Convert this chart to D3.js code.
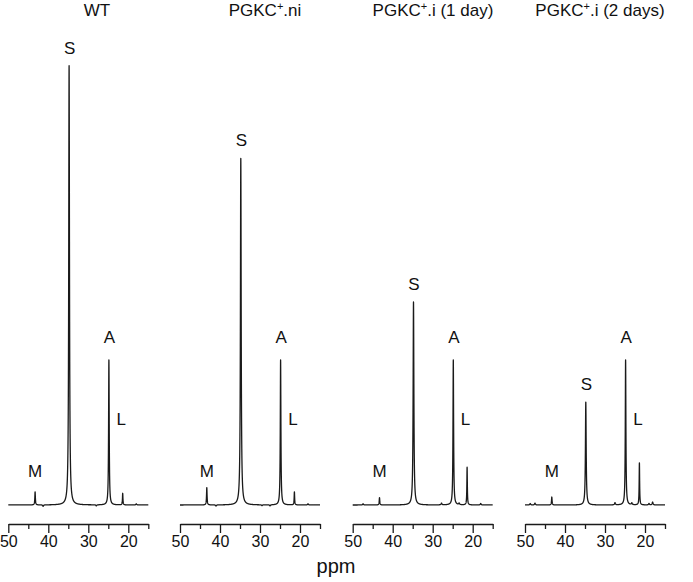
<!DOCTYPE html>
<html>
<head>
<meta charset="utf-8">
<script src="https://cdn.jsdelivr.net/npm/d3@7/dist/d3.min.js"></script>
<style>
  html, body { margin: 0; padding: 0; background: #fff; }
  svg { display: block; font-family: "Liberation Sans", Arial, sans-serif; }
</style>
</head>
<body>
<svg id="chart" width="693" height="582"></svg>
<script>
// ---------------- DATA ----------------
const sampleNames = ["WT", "PGKC+.ni", "PGKC+.i (1 day)", "PGKC+.i (2 days)"];
const titleMain = ["WT", "PGKC", "PGKC", "PGKC"];
const titleSup = ["", "+", "+", "+"];
const titleRest = ["", ".ni", ".i (1 day)", ".i (2 days)"];

const peakLabels = ["M", "S", "A", "L"];
const peakPpm = [43.3, 34.8, 24.85, 21.4];
// relative intensity (A = 100)
const heightsWT = [9, 303, 100, 8];
const heightsNi = [12, 239, 100, 9];
const heights1d = [5, 140, 100, 26];
const heights2d = [5.5, 71, 100, 29];

// small baseline features (ppm, relative intensity)
const minorPpmWT = [41.3, 28.0, 18.0];
const minorHWT = [-1.0, -0.8, 0.8];
const minorPpmNi = [41.0, 29.5, 27.5, 18.0];
const minorHNi = [-0.8, -0.6, -0.8, 0.8];
const minorPpm1d = [47.4, 27.8, 23.4, 18.0];
const minorH1d = [0.8, 1.2, 1.0, 1.0];
const minorPpm2d = [48.7, 47.5, 27.5, 23.3, 19.0, 18.1];
const minorH2d = [1.0, 1.3, 1.5, 1.2, 1.0, 2.0];

const tickValues = [50, 45, 40, 35, 30, 25, 20, 15];
const tickLabels = ["50", "", "40", "", "30", "", "20", ""];
const xLabel = "ppm";

// ---------------- LAYOUT ----------------
const panelLeft = [8.3, 180, 352.7, 525];
const panelWidth = 140;
const baselineY = 505;
const axisY = 524;
const titleCx = [97, 265, 433, 600];
const titleY = 16;

const panels = [
  { heights: heightsWT, mp: minorPpmWT, mh: minorHWT },
  { heights: heightsNi, mp: minorPpmNi, mh: minorHNi },
  { heights: heights1d, mp: minorPpm1d, mh: minorH1d },
  { heights: heights2d, mp: minorPpm2d, mh: minorH2d }
];

const svg = d3.select("#chart");
const y = d3.scaleLinear().domain([0, 320]).range([baselineY, baselineY - 320 * 1.45]);

const gammaMain = [0.08, 0.11, 0.09, 0.07];
const gammaMinor = 0.12;

panels.forEach((p, i) => {
  const x = d3.scaleLinear().domain([50, 15]).range([panelLeft[i], panelLeft[i] + panelWidth]);
  const g = svg.append("g");

  const pts = [];
  const ppmGrid = d3.range(0, 3501).map(k => 50 - k * 0.01);
  ppmGrid.forEach(v => {
    let s = 0;
    peakPpm.forEach((c, j) => {
      const gm = gammaMain[j];
      s += p.heights[j] * (gm * gm) / ((v - c) * (v - c) + gm * gm);
    });
    p.mp.forEach((c, j) => {
      s += p.mh[j] * (gammaMinor * gammaMinor) / ((v - c) * (v - c) + gammaMinor * gammaMinor);
    });
    pts.push([v, s]);
  });

  g.append("path")
    .datum(pts)
    .attr("fill", "none")
    .attr("stroke", "#1a1a1a")
    .attr("stroke-width", 1.3)
    .attr("stroke-linejoin", "round")
    .attr("d", d3.line().x(d => x(d[0])).y(d => y(d[1])));

  const axis = d3.axisBottom(x)
    .tickValues(tickValues)
    .tickSizeOuter(0)
    .tickSizeInner(9)
    .tickFormat((d, k) => tickLabels[k]);
  const ag = g.append("g").attr("transform", `translate(0,${axisY})`).call(axis);
  ag.select(".domain").attr("stroke", "#1a1a1a").attr("stroke-width", 1.3);
  ag.selectAll(".tick line").attr("stroke", "#1a1a1a").attr("stroke-width", 1.3)
    .attr("y2", (d, k) => tickLabels[k] ? 9 : 5);
  ag.selectAll(".tick text")
    .attr("font-size", 16)
    .attr("font-family", "Liberation Sans, Arial, sans-serif")
    .attr("fill", "#111")
    .attr("y", 12);

  const t = g.append("text")
    .attr("x", titleCx[i]).attr("y", titleY)
    .attr("text-anchor", "middle")
    .attr("font-size", 17)
    .attr("fill", "#111");
  t.append("tspan").text(titleMain[i]);
  if (titleSup[i]) {
    t.append("tspan").attr("dy", -6).attr("font-size", 11).text(titleSup[i]);
    t.append("tspan").attr("dy", 6).text(titleRest[i]);
  }

  const labelY = [baselineY - 28, y(p.heights[1]) - 12, baselineY - 162, baselineY - 80];
  const labelDx = [0, 0.5, 0.5, -1.5];
  peakLabels.forEach((lab, j) => {
    g.append("text")
      .attr("x", x(peakPpm[j]) + labelDx[j])
      .attr("y", labelY[j])
      .attr("text-anchor", "middle")
      .attr("font-size", 17)
      .attr("fill", "#111")
      .text(lab);
  });
});

svg.append("text")
  .attr("x", 336).attr("y", 573)
  .attr("text-anchor", "middle")
  .attr("font-size", 20)
  .attr("fill", "#111")
  .text(xLabel);
</script>
</body>
</html>
